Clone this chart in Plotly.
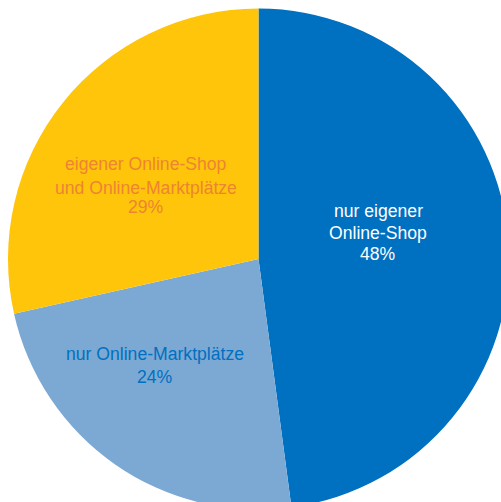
import plotly.graph_objects as go

categories = ["nur eigener Online-Shop", "nur Online-Marktplätze", "eigener Online-Shop und Online-Marktplätze"]
values = [47.9, 23.6, 28.5]
label_lines = [["nur eigener", "Online-Shop", "48%"],
               ["nur Online-Marktplätze", "24%"],
               ["eigener Online-Shop", "und Online-Marktplätze", "29%"]]
colors = ["#0070C0", "#7BA9D4", "#FFC50B"]
text_colors = ["#FFFFFF", "#0070C0", "#ED8432"]

W, H = 501, 502
OFF = 8  # page body offset
FS = 17.6

# label layout (page pixel positions of line centre x and baselines)
label_pos = [
    (378, [217.7, 239.3, 260.0]),
    (154.5, [360.7, 383.3]),
    (146, [170.0, 194.3, 213.3]),
]

fig = go.Figure(go.Pie(
    labels=categories,
    values=values,
    sort=False,
    direction="clockwise",
    rotation=0,
    marker=dict(colors=colors, line=dict(width=0)),
    textinfo="none",
    hoverinfo="skip",
    showlegend=False,
    domain=dict(x=[0, 1], y=[0, 1]),
))

annotations = []
for (cx, baselines), lines, col in zip(label_pos, label_lines, text_colors):
    for by, line in zip(baselines, lines):
        cy = by - 0.36 * FS
        annotations.append(dict(
            text=line, showarrow=False,
            xref="paper", yref="paper",
            x=(cx - OFF) / W, y=1 - (cy - OFF) / H,
            xanchor="center", yanchor="middle",
            font=dict(family="Liberation Sans, Arial", size=FS, color=col),
        ))

fig.update_layout(
    width=W, height=H,
    margin=dict(l=0, r=0, t=0, b=0),
    paper_bgcolor="white",
    annotations=annotations,
)
fig.write_html(
    "out.html",
    post_script="document.documentElement.style.overflow='hidden';"
                "document.body.style.margin='8px 0 0 8px';"
                "document.body.style.overflow='visible';",
)
